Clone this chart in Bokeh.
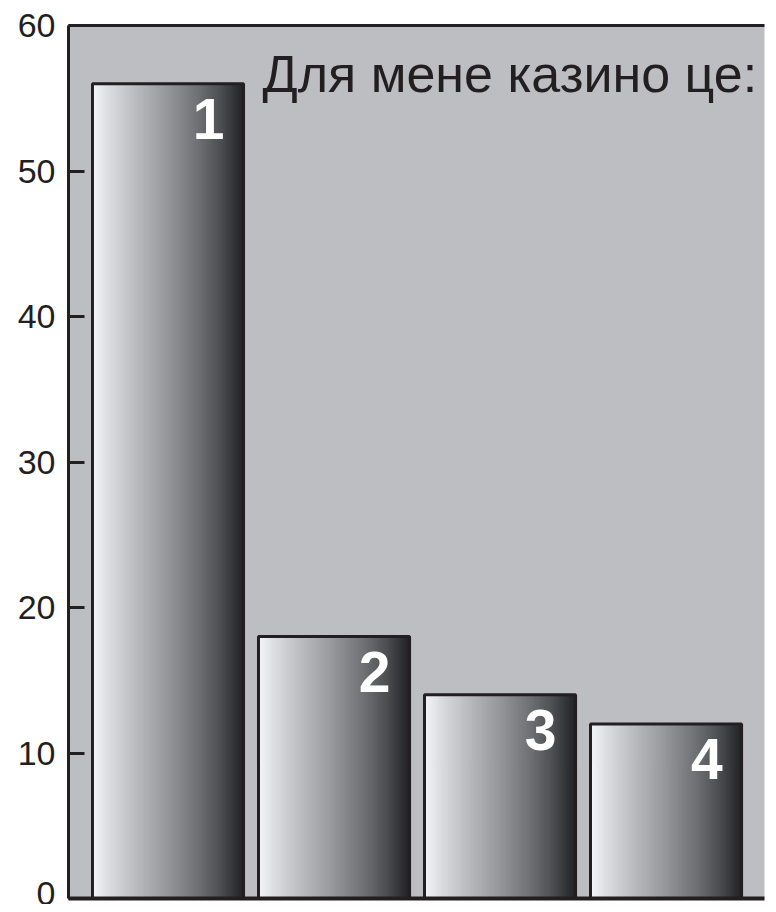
from bokeh.plotting import figure
from bokeh.models import ColumnDataSource, Range1d, FixedTicker, LinearAxis, Label
from bokeh.core.properties import value
from bokeh.embed import file_html
from bokeh.resources import INLINE

# ---- data ----
categories = [1, 2, 3, 4]
bar_labels = ["1", "2", "3", "4"]
values = [56, 18, 14, 12]
y_ticks = [0, 10, 20, 30, 40, 50, 60]
title_text = "Для мене казино це:"

FONT = "Liberation Sans"
BG = "#bdbec2"
INK = "#231f20"

p = figure(width=768, height=904, output_backend="svg", toolbar_location=None,
           x_range=Range1d(0.4006, 4.593), y_range=Range1d(0, 60),
           min_border_left=68, min_border_top=25, min_border_right=4, min_border_bottom=6)
p.background_fill_color = BG
p.border_fill_color = "white"
p.outline_line_color = None
p.grid.visible = False

# y axis
ya = p.yaxis[0]
ya.ticker = FixedTicker(ticks=y_ticks)
ya.major_tick_in = 16
ya.major_tick_out = 0
ya.major_tick_line_width = 3
ya.major_tick_line_color = INK
ya.minor_tick_line_color = None
ya.axis_line_width = 3
ya.axis_line_color = INK
ya.major_label_text_font = FONT
ya.major_label_text_font_size = "34px"
ya.major_label_text_color = INK
ya.major_label_standoff = 13

# x axis: only its line
xa = p.xaxis[0]
xa.ticker = FixedTicker(ticks=[])
xa.major_tick_line_color = None
xa.minor_tick_line_color = None
xa.axis_line_width = 4
xa.axis_line_color = INK
xa.major_label_standoff = 0

top = LinearAxis(ticker=FixedTicker(ticks=[]), major_tick_line_color=None,
                 minor_tick_line_color=None, axis_line_width=3,
                 axis_line_color=INK, major_label_standoff=0)
p.add_layout(top, "above")

# gradient bars made of thin strips
bw = 0.91
N = 120
stops = [(0.0, 246), (0.1, 222), (0.3, 185), (0.5, 150), (0.7, 112), (0.85, 78), (0.95, 48), (1.0, 35)]


def gray(t):
    g = stops[-1][1]
    for (t0, g0), (t1, g1) in zip(stops[:-1], stops[1:]):
        if t0 <= t <= t1:
            g = g0 + (g1 - g0) * (t - t0) / (t1 - t0)
            break
    gi = int(round(g))
    clamp = lambda v: max(0, min(255, v))
    return "#%02x%02x%02x" % (clamp(gi - 1), clamp(gi), clamp(gi + 3))


L, R, T, C = [], [], [], []
for c, v in zip(categories, values):
    left = c - bw / 2
    for i in range(N):
        t = (i + 0.5) / N
        L.append(left + bw * i / N)
        R.append(min(left + bw * (i + 1) / N + 0.006, left + bw))
        T.append(v)
        C.append(gray(t))
strips = ColumnDataSource(dict(left=L, right=R, top=T, color=C))
p.quad(left="left", right="right", bottom=0, top="top", fill_color="color",
       line_color=None, source=strips)

src = ColumnDataSource(dict(x=categories, top=values, lab=bar_labels,
                            lx=[c + bw / 2 for c in categories]))
p.vbar(x="x", top="top", width=bw, bottom=0, fill_color=None,
       line_color=INK, line_width=3, source=src)

p.text(x="lx", y="top", text="lab", source=src, x_offset=-19, y_offset=35,
       text_align="right", text_baseline="alphabetic", text_color="white",
       text_font=value(FONT), text_font_style="bold", text_font_size="57px")

title = Label(x=194, y=60, x_units="screen", y_units="data", text=title_text,
              text_align="left", text_baseline="alphabetic", y_offset=-48,
              text_font=FONT, text_font_size="52px", text_color=INK)
p.add_layout(title)

open("out.html", "w").write(file_html(p, INLINE))
